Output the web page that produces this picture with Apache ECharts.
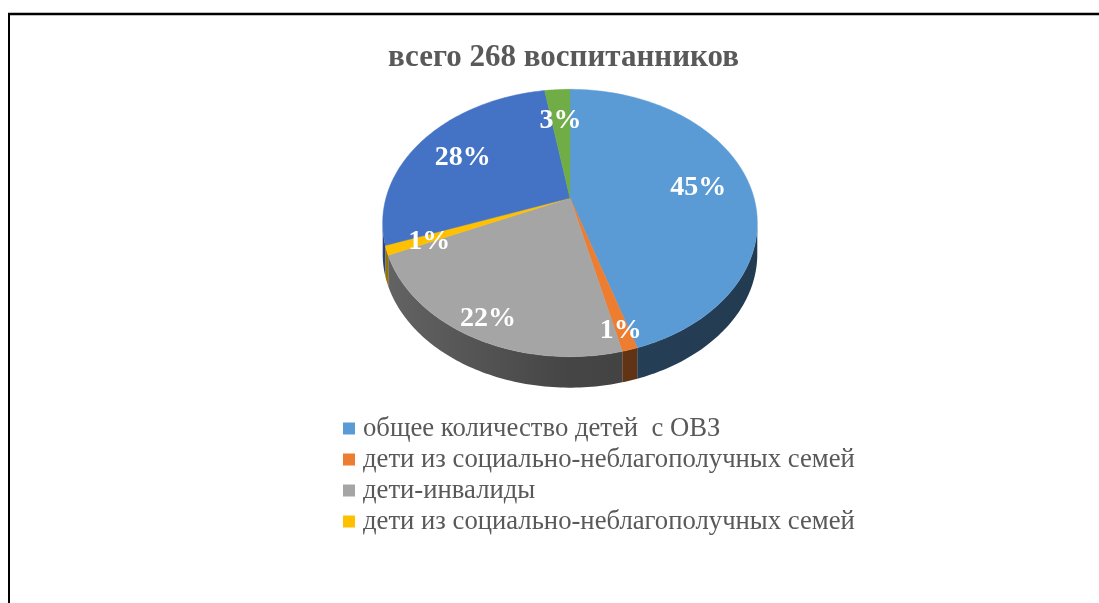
<!DOCTYPE html>
<html>
<head>
<meta charset="utf-8">
<script src="https://cdn.jsdelivr.net/npm/echarts@6/dist/echarts.min.js"></script>
<style>
  html, body { margin: 0; padding: 0; background: #fff; }
  #chart { width: 1099px; height: 603px; }
</style>
</head>
<body>
<div id="chart"></div>
<script>
// slices, clockwise from 12 o'clock
const categories = [
    'общее количество детей  с ОВЗ',
    'дети из социально-неблагополучных семей',
    'дети-инвалиды',
    'дети из социально-неблагополучных семей\u200b',
    'категория 5',
    'категория 6'
];
const values = [121, 3, 59, 3, 75, 7];
const colors = ['#5b9bd5', '#ed7d31', '#a5a5a5', '#ffc000', '#4472c4', '#70ad47'];
const legendNames = categories.slice(0, 4);
const titleText = 'всего 268 воспитанников';

const total = values.reduce((a, b) => a + b, 0);

// tilted pie: perspective projection of a unit disc
const PIE = {cx: 570, cy: 198, a: 184, b: 129, k: 0.187, depth: 31};

const project = (theta, f) => {
    const u = f * Math.sin(theta);
    const v = -f * Math.cos(theta);
    const d = 1 - PIE.k * v;
    return [PIE.cx + PIE.a * u / d, PIE.cy + PIE.b * v / d];
};

const arc = (s, e) => {
    const pts = [];
    const n = Math.max(2, Math.ceil((e - s) / (Math.PI / 180)));
    for (let j = 0; j <= n; j++) {
        pts.push(project(s + (e - s) * j / n, 1));
    }
    return pts;
};

const shade = (hex, f) => {
    const r = parseInt(hex.slice(1, 3), 16), g = parseInt(hex.slice(3, 5), 16), b = parseInt(hex.slice(5, 7), 16);
    return 'rgb(' + Math.round(r * f) + ',' + Math.round(g * f) + ',' + Math.round(b * f) + ')';
};

const startAngle = (i) => values.slice(0, i).reduce((a, b) => a + b, 0) / total * Math.PI * 2;

const buildSlice = (i) => {
    const s = startAngle(i);
    const e = startAngle(i + 1);
    const children = [];

    // front wall (only the part facing the viewer)
    const lo = Math.acos(-PIE.k);
    const hi = Math.PI * 2 - lo;
    const ss = Math.max(s, lo), ee = Math.min(e, hi);
    if (ee > ss) {
        const top = arc(ss, ee);
        const bottom = top.map(p => [p[0], p[1] + PIE.depth]).reverse();
        children.push({
            type: 'polygon',
            shape: {points: top.concat(bottom)},
            style: {
                fill: new echarts.graphic.LinearGradient(PIE.cx - PIE.a, 0, PIE.cx + PIE.a, 0, [
                    {offset: 0, color: shade(colors[i], 0.6)},
                    {offset: 0.5, color: shade(colors[i], 0.42)},
                    {offset: 1, color: shade(colors[i], 0.38)}
                ], true),
                stroke: null
            },
            z2: 1
        });
    }

    // top face
    children.push({
        type: 'polygon',
        shape: {points: [[PIE.cx, PIE.cy]].concat(arc(s, e))},
        style: {fill: colors[i], stroke: colors[i], lineWidth: 0.5},
        z2: 2
    });

    // percent label, pushed outwards a bit more on the near side
    const mid = (s + e) / 2;
    const near = Math.max(0, -Math.cos(mid));
    const lp = project(mid, 0.72 + 0.16 * near);
    children.push({
        type: 'text',
        x: lp[0],
        y: lp[1] + 4,
        style: {
            text: Math.round(values[i] / total * 100) + '%',
            fill: '#ffffff',
            font: 'bold 28px "Liberation Serif"',
            align: 'center',
            verticalAlign: 'middle'
        },
        z2: 3
    });

    return {type: 'group', children: children};
};

const chart = echarts.init(document.getElementById('chart'), null, {renderer: 'canvas'});

chart.setOption({
    animation: false,
    backgroundColor: '#ffffff',
    title: {
        text: titleText,
        left: 383,
        top: 37,
        textStyle: {fontFamily: 'Liberation Serif', fontWeight: 'bold', fontSize: 31, color: '#595959'}
    },
    legend: {
        data: legendNames,
        orient: 'vertical',
        left: 343,
        top: 413,
        padding: 0,
        icon: 'rect',
        itemWidth: 12,
        itemHeight: 12,
        itemGap: 0,
        selectedMode: false,
        textStyle: {fontFamily: 'Liberation Serif', fontSize: 26.7, color: '#595959', lineHeight: 31, padding: [0, 0, 0, 3]}
    },
    graphic: [
        {type: 'line', shape: {x1: 8, y1: 14, x2: 1099, y2: 14}, style: {stroke: '#000', lineWidth: 2.5}},
        {type: 'line', shape: {x1: 9, y1: 14, x2: 9, y2: 603}, style: {stroke: '#000', lineWidth: 2}}
    ],
    series: categories.map((name, i) => ({
        type: 'custom',
        name: name,
        coordinateSystem: 'none',
        silent: true,
        itemStyle: {color: colors[i]},
        data: [values[i]],
        renderItem: () => buildSlice(i)
    }))
});
</script>
</body>
</html>
